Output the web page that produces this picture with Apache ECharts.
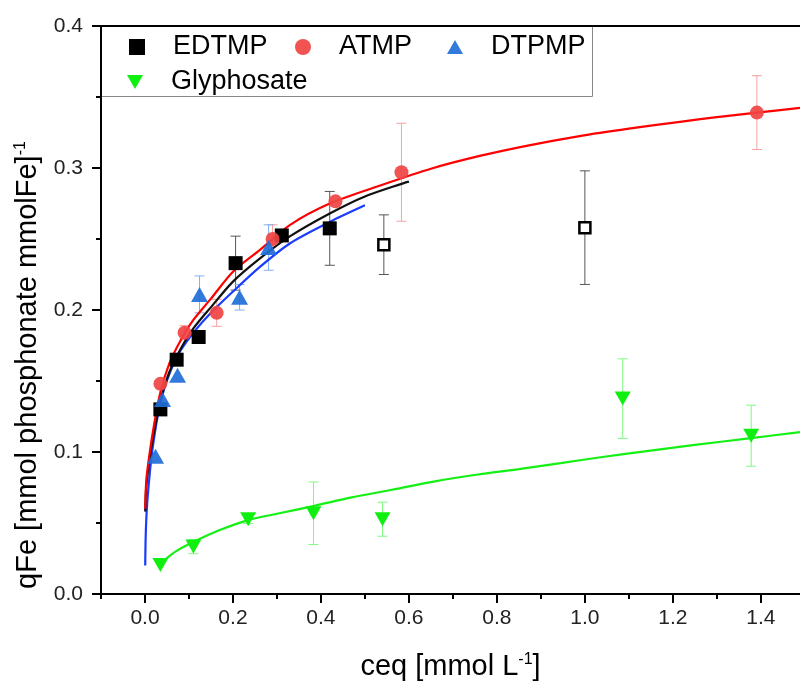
<!DOCTYPE html>
<html>
<head>
<meta charset="utf-8">
<script src="https://cdn.jsdelivr.net/npm/echarts@6/dist/echarts.min.js"></script>
<style>
  html, body { margin: 0; padding: 0; background: #fff; }
  #chart { width: 800px; height: 686px; }
</style>
</head>
<body>
<div id="chart"></div>
<script>
// measured points (ceq, qFe, error)
const edtmpX = [0.035, 0.072, 0.122, 0.206, 0.311, 0.420];
const edtmpY = [0.130, 0.165, 0.181, 0.233, 0.2525, 0.2575];
const edtmpErr = [0, 0, 0, 0.019, 0, 0.026];
// points left out of the fit (open squares)
const edtmpOutX = [0.543, 1.000];
const edtmpOutY = [0.246, 0.258];
const edtmpOutErr = [0.021, 0.040];

const atmpX = [0.035, 0.090, 0.163, 0.290, 0.433, 0.583, 1.391];
const atmpY = [0.148, 0.184, 0.198, 0.250, 0.2765, 0.297, 0.339];
const atmpErr = [0, 0.005, 0.0095, 0.010, 0, 0.0345, 0.026];

const dtpmpX = [0.024, 0.040, 0.074, 0.124, 0.215, 0.281];
const dtpmpY = [0.097, 0.137, 0.154, 0.211, 0.209, 0.244];
const dtpmpErr = [0, 0, 0, 0.013, 0.009, 0.016];

const glyX = [0.035, 0.110, 0.2345, 0.383, 0.540, 1.086, 1.378];
const glyY = [0.0205, 0.0334, 0.0527, 0.0569, 0.0527, 0.1376, 0.1115];
const glyErr = [0, 0.005, 0.003, 0.022, 0.012, 0.028, 0.0215];

// fitted curves
const atmpFitX = [0.0005, 0.003, 0.01, 0.02, 0.035, 0.055, 0.08, 0.11, 0.15, 0.2, 0.26, 0.33, 0.42, 0.533, 0.65, 0.761, 0.87, 0.988, 1.1, 1.216, 1.3, 1.391, 1.489];
const atmpFitY = [0.060, 0.080, 0.098, 0.118, 0.142, 0.162, 0.178, 0.193, 0.208, 0.227, 0.242, 0.260, 0.275, 0.2875, 0.2995, 0.3085, 0.3158, 0.3225, 0.3277, 0.3325, 0.3358, 0.339, 0.3423];
const edtmpFitX = [0.0005, 0.003, 0.01, 0.02, 0.035, 0.055, 0.08, 0.11, 0.15, 0.2, 0.26, 0.33, 0.42, 0.5, 0.6];
const edtmpFitY = [0.058, 0.076, 0.094, 0.113, 0.136, 0.156, 0.172, 0.187, 0.202, 0.220, 0.236, 0.252, 0.268, 0.280, 0.2905];
const dtpmpFitX = [0.0005, 0.002, 0.006, 0.017, 0.036, 0.058, 0.08, 0.11, 0.15, 0.2, 0.26, 0.33, 0.42, 0.5];
const dtpmpFitY = [0.020, 0.045, 0.068, 0.102, 0.136, 0.157, 0.171, 0.184, 0.198, 0.213, 0.230, 0.247, 0.262, 0.2737];
const glyFitX = [0.045, 0.07, 0.112, 0.17, 0.236, 0.30, 0.385, 0.47, 0.562, 0.653, 0.753, 0.85, 0.945, 1.04, 1.136, 1.25, 1.378, 1.489];
const glyFitY = [0.024, 0.030, 0.0369, 0.045, 0.0522, 0.0565, 0.0621, 0.068, 0.0734, 0.079, 0.084, 0.088, 0.0922, 0.0965, 0.1004, 0.105, 0.1098, 0.114];

// axes
const xMin = -0.1, xMax = 1.489;
const xMajorTicks = [0, 0.2, 0.4, 0.6, 0.8, 1.0, 1.2, 1.4];
const xMinorTicks = [-0.1, 0.1, 0.3, 0.5, 0.7, 0.9, 1.1, 1.3];
const yMin = 0, yMax = 0.4, yStep = 0.1;

const FONT = 'Liberation Sans, Arial, sans-serif';
const SQUARE = 'path://M0,0 L10,0 L10,10 L0,10 Z';
const UP_TRI = 'path://M8,0 L16,14 L0,14 Z';
const DOWN_TRI = 'path://M0,0 L16,0 L8,14 Z';

function zip(xs, ys, es) {
    return xs.map((x, i) => es ? [x, ys[i], es[i]] : [x, ys[i]]);
}

function errBars(color) {
    return function (params, api) {
        let x = api.value(0), y = api.value(1), e = api.value(2);
        if (!e) return null;
        let top = api.coord([x, y + e]);
        let bot = api.coord([x, y - e]);
        let hw = 5;
        let st = { stroke: color, lineWidth: 1 };
        return {
            type: 'group',
            children: [
                { type: 'line', shape: { x1: top[0], y1: top[1], x2: bot[0], y2: bot[1] }, style: st },
                { type: 'line', shape: { x1: top[0] - hw, y1: top[1], x2: top[0] + hw, y2: top[1] }, style: st },
                { type: 'line', shape: { x1: bot[0] - hw, y1: bot[1], x2: bot[0] + hw, y2: bot[1] }, style: st }
            ]
        };
    };
}

function errSeries(name, data, color) {
    return {
        name: name, type: 'custom', renderItem: errBars(color),
        data: data, z: 1, silent: true,
        encode: { x: 0, y: 1 }
    };
}

function fitLine(name, xs, ys, color) {
    return {
        name: name, type: 'line', data: zip(xs, ys), showSymbol: false,
        symbol: 'none', smooth: 0.3, z: 2, silent: true,
        lineStyle: { color: color, width: 2.2 }
    };
}

function legendItem(name, icon, left, top) {
    return {
        left: left, top: top, padding: 0,
        itemWidth: 16, itemHeight: 16,
        textStyle: { fontFamily: FONT, fontSize: 27, color: '#000', lineHeight: 32, padding: [0, 0, 0, 23] },
        data: [{ name: name, icon: icon }]
    };
}

let myChart = echarts.init(document.getElementById('chart'));

let option = {
    animation: false,
    backgroundColor: '#fff',
    grid: [
        { left: 101, right: 0, top: 26, bottom: 92 },
        { left: 101, right: 0, top: 26, bottom: 92 }
    ],
    graphic: [{
        type: 'rect', z: -1, silent: true,
        shape: { x: 101.5, y: 25.5, width: 491, height: 71 },
        style: { fill: '#fff', stroke: '#888', lineWidth: 1 }
    }],
    legend: [
        legendItem('EDTMP', SQUARE, 129, 31),
        legendItem('ATMP', 'circle', 295, 31),
        legendItem('DTPMP', UP_TRI, 447, 31),
        legendItem('Glyphosate', DOWN_TRI, 127, 66)
    ],
    xAxis: [
        {
            type: 'value', gridIndex: 0, position: 'bottom',
            min: xMin, max: xMax,
            name: 'ceq [mmol L{sup|-1}]',
            nameLocation: 'middle', nameGap: 58,
            nameTextStyle: {
                fontFamily: FONT, fontSize: 29, color: '#000',
                rich: { sup: { fontFamily: FONT, fontSize: 16, verticalAlign: 'top', padding: [0, 0, 12, 0] } }
            },
            axisLine: { onZero: false, lineStyle: { color: '#000', width: 2 } },
            axisTick: { customValues: xMajorTicks, length: 9, lineStyle: { color: '#000', width: 2 } },
            axisLabel: {
                customValues: xMajorTicks, margin: 14,
                fontFamily: FONT, fontSize: 21, color: '#222',
                formatter: v => v.toFixed(1)
            },
            splitLine: { show: false }
        },
        {
            type: 'value', gridIndex: 0, position: 'top',
            min: xMin, max: xMax,
            axisLine: { onZero: false, lineStyle: { color: '#000', width: 2 } },
            axisTick: { show: false }, axisLabel: { show: false },
            splitLine: { show: false }
        },
        {
            type: 'value', gridIndex: 1, position: 'bottom',
            min: xMin, max: xMax,
            axisLine: { show: false },
            axisTick: { customValues: xMinorTicks, length: 5, lineStyle: { color: '#000', width: 2 } },
            axisLabel: { show: false },
            splitLine: { show: false }
        }
    ],
    yAxis: [
        {
            type: 'value', gridIndex: 0,
            min: yMin, max: yMax, interval: yStep,
            name: 'qFe [mmol phosphonate mmolFe]{sup|-1}',
            nameLocation: 'middle', nameGap: 59, nameRotate: 90,
            nameTextStyle: {
                fontFamily: FONT, fontSize: 29, color: '#000',
                padding: [0, 110, 0, 0],
                rich: { sup: { fontFamily: FONT, fontSize: 16, verticalAlign: 'top', padding: [0, 0, 12, 0] } }
            },
            axisLine: { onZero: false, lineStyle: { color: '#000', width: 2 } },
            axisTick: { length: 9, lineStyle: { color: '#000', width: 2 } },
            minorTick: { show: true, splitNumber: 2, length: 5, lineStyle: { color: '#000', width: 2 } },
            axisLabel: {
                margin: 18, fontFamily: FONT, fontSize: 21, color: '#222',
                formatter: v => v.toFixed(1)
            },
            splitLine: { show: false }
        },
        {
            type: 'value', gridIndex: 1, min: yMin, max: yMax, show: false
        }
    ],
    series: [
        errSeries('EDTMP err', zip(edtmpX, edtmpY, edtmpErr), '#555'),
        errSeries('EDTMP out err', zip(edtmpOutX, edtmpOutY, edtmpOutErr), '#555'),
        errSeries('ATMP err', zip(atmpX, atmpY, atmpErr), '#f7a0a0'),
        errSeries('DTPMP err', zip(dtpmpX, dtpmpY, dtpmpErr), '#80b0ee'),
        errSeries('Glyphosate err', zip(glyX, glyY, glyErr), '#80f880'),

        fitLine('Glyphosate fit', glyFitX, glyFitY, '#14f014'),
        fitLine('DTPMP fit', dtpmpFitX, dtpmpFitY, '#1a3cff'),
        fitLine('EDTMP fit', edtmpFitX, edtmpFitY, '#111'),
        fitLine('ATMP fit', atmpFitX, atmpFitY, '#ff0000'),

        {
            name: 'EDTMP', type: 'scatter', data: zip(edtmpX, edtmpY),
            symbol: SQUARE, symbolSize: 14, z: 3,
            itemStyle: { color: '#000', opacity: 1 }
        },
        {
            name: 'EDTMP excluded', type: 'scatter', data: zip(edtmpOutX, edtmpOutY),
            symbol: 'rect', symbolSize: 11, z: 3,
            itemStyle: { color: '#fff', borderColor: '#000', borderWidth: 2.5, opacity: 1 }
        },
        {
            name: 'ATMP', type: 'scatter', data: zip(atmpX, atmpY),
            symbol: 'circle', symbolSize: 14, z: 3,
            itemStyle: { color: '#f04444', opacity: 0.92 }
        },
        {
            name: 'DTPMP', type: 'scatter', data: zip(dtpmpX, dtpmpY),
            symbol: UP_TRI, symbolSize: [17, 15], z: 3,
            itemStyle: { color: '#1f6fd8', opacity: 0.92 }
        },
        {
            name: 'Glyphosate', type: 'scatter', data: zip(glyX, glyY),
            symbol: DOWN_TRI, symbolSize: [16, 14], z: 3,
            itemStyle: { color: '#10f010', opacity: 1 }
        }
    ]
};

option && myChart.setOption(option);
</script>
</body>
</html>
